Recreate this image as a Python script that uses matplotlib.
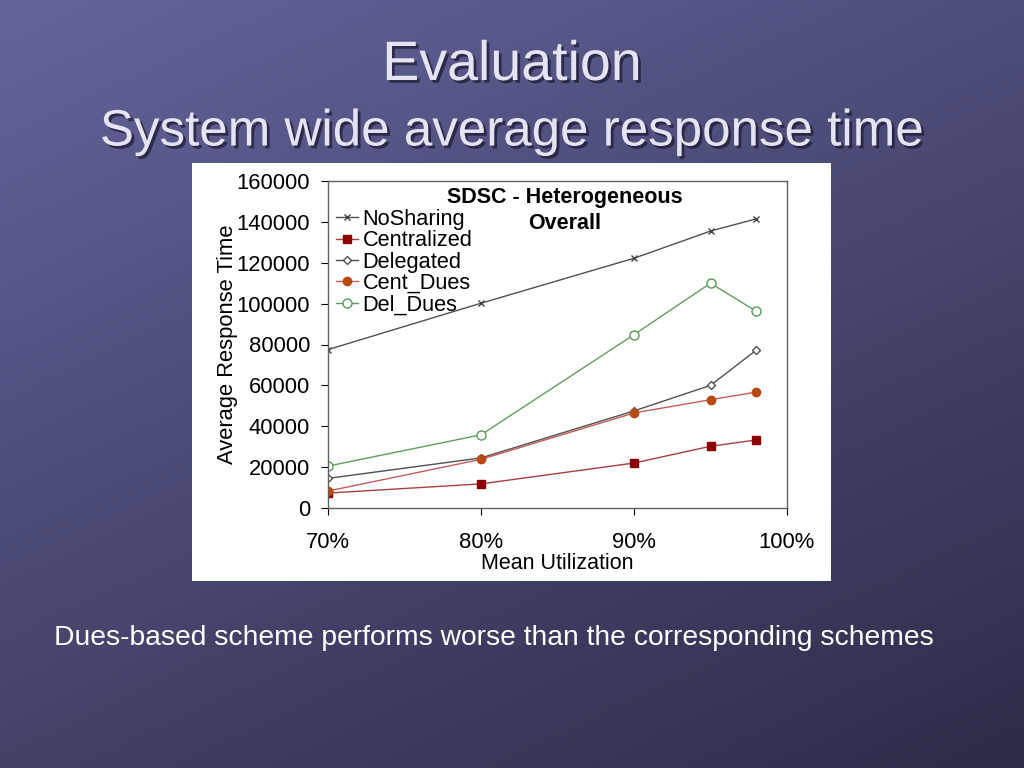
import numpy as np
import matplotlib.pyplot as plt
import matplotlib.patheffects as pe
from matplotlib.patches import Rectangle
from matplotlib.ticker import FuncFormatter

util = [70, 80, 90, 95, 98]
no_sharing = [77500, 100200, 122200, 135500, 141500]
centralized = [7300, 11800, 22000, 30200, 33300]
delegated = [14500, 24500, 47500, 60000, 77300]
cent_dues = [8300, 23800, 46500, 53000, 56700]
del_dues = [20500, 35800, 84800, 110000, 96200]

series = [
    ("NoSharing", no_sharing, dict(color="#505050", marker="x", ms=5, mew=1.0, mfc="#505050", mec="#404040")),
    ("Centralized", centralized, dict(color="#a84040", marker="s", ms=6, mfc="#8b0000", mec="#8b0000")),
    ("Delegated", delegated, dict(color="#505050", marker="D", ms=4, mfc="white", mec="#505050")),
    ("Cent_Dues", cent_dues, dict(color="#c85a5a", marker="o", ms=6, mfc="#b84a10", mec="#b84a10")),
    ("Del_Dues", del_dues, dict(color="#5f9f5f", marker="o", ms=6.5, mfc="white", mec="#5a9a5a")),
]

W, H = 1024, 768
fig = plt.figure(figsize=(W / 100, H / 100), dpi=100)
plt.rcParams['font.family'] = ['Liberation Sans', 'DejaVu Sans']

# slide background gradient
bg = fig.add_axes([0, 0, 1, 1])
yy, xx = np.mgrid[0:1:200j, 0:1:200j]
t = np.clip(0.5 * xx + 0.8 * yy, 0, 1.3) / 1.3
c0 = np.array([0x64, 0x64, 0x9c]) / 255
c1 = np.array([0x2c, 0x2c, 0x48]) / 255
img = c0[None, None, :] * (1 - t[..., None]) + c1[None, None, :] * t[..., None]
bg.imshow(img, extent=[0, 1, 0, 1], origin="upper", aspect="auto")
bg.set_xlim(0, 1)
bg.set_ylim(0, 1)
bg.axis("off")

# white chart panel
fig.patches.append(Rectangle((192 / W, 1 - 581 / H), (831 - 192) / W, (581 - 163) / H,
                             transform=fig.transFigure, facecolor="white", edgecolor="none", zorder=1))

shadow = [pe.withSimplePatchShadow(offset=(2, -2), shadow_rgbFace="#20203a", alpha=0.8)]
fig.text(0.5, 1 - 66 / H, "Evaluation", ha="center", va="center", fontsize=40,
         color="#e4e4f4", path_effects=shadow)
fig.text(0.5, 1 - 132 / H, "System wide average response time", ha="center", va="center",
         fontsize=36.8, color="#e4e4f4", path_effects=shadow)
fig.text(54 / W, 1 - 638 / H, "Dues-based scheme performs worse than the corresponding schemes",
         ha="left", va="center", fontsize=20.3, color="white")

ax = fig.add_axes([328 / W, 1 - 508 / H, (787 - 328) / W, (508 - 181) / H], zorder=2)
ax.set_facecolor("white")
for name, vals, st in series:
    ax.plot(util, vals, lw=1, label=name, **st)

ax.set_xlim(70, 100)
ax.set_ylim(0, 160000)
ax.set_xticks([70, 80, 90, 100])
ax.set_yticks(np.arange(0, 160001, 20000))
ax.xaxis.set_major_formatter(FuncFormatter(lambda v, p: f"{v:.0f}%"))
ax.tick_params(axis="y", direction="out", length=5, labelsize=15.8, pad=8)
ax.tick_params(axis="x", direction="out", length=5, labelsize=15.8, pad=12)
for s in ax.spines.values():
    s.set_color("#606060")
    s.set_linewidth(1)
ax.set_ylabel("Average Response Time", fontsize=15.8, labelpad=-1)
ax.set_xlabel("Mean Utilization", fontsize=15.5, labelpad=0)
ax.text(0.516, 0.949, "SDSC - Heterogeneous", transform=ax.transAxes, ha="center", va="center",
        fontsize=15.5, fontweight="bold")
ax.text(0.516, 0.870, "Overall", transform=ax.transAxes, ha="center", va="center",
        fontsize=15.5, fontweight="bold")
ax.legend(loc="upper left", bbox_to_anchor=(-0.01, 0.955), frameon=False, fontsize=15.7,
          handlelength=1.0, handletextpad=0.2, labelspacing=0.02, borderaxespad=0.2)

fig.savefig("out.png", dpi=100)
